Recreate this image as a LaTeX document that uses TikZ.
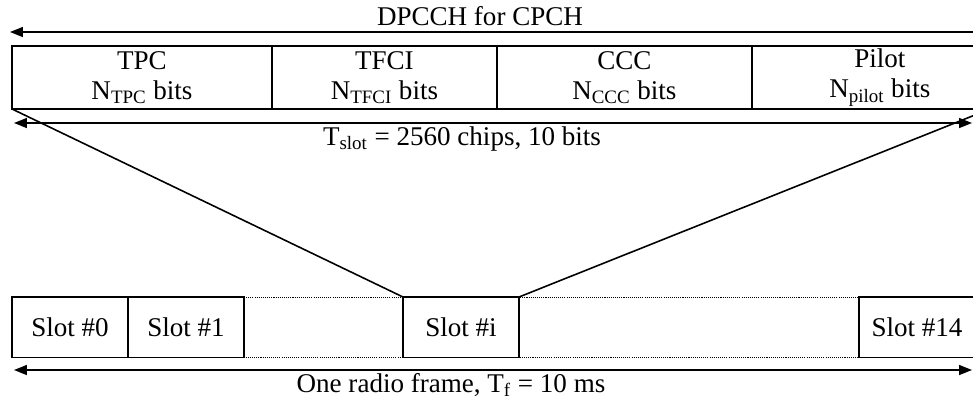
\documentclass[tikz,border=0pt]{standalone}
\usepackage{fontspec}
\setmainfont{Liberation Serif}
\usepackage{tikz}
\usetikzlibrary{positioning, arrows.meta}
\tikzset{
    field/.style={draw, rectangle, line width=0.9pt, outer sep=0pt, inner sep=0pt, minimum height=1.26cm, align=center},
    slot/.style={draw, rectangle, line width=0.9pt, outer sep=0pt, inner sep=0pt, minimum width=2.32cm, minimum height=1.21cm},
    conn/.style={-, line width=0.9pt},
    span/.style={line width=0.9pt, arrows={Triangle[length=0.26cm, width=0.2cm]-Triangle[length=0.26cm, width=0.2cm]}},
    spanL/.style={line width=0.9pt, arrows={Triangle[length=0.26cm, width=0.2cm]-}},
    dotline/.style={-, line width=0.5pt, dotted, dash pattern=on 0.6pt off 0.6pt},
}

\begin{document}
\begin{tikzpicture}[x=0.02cm, y=-0.02cm, font=\fontsize{15.4}{17}\selectfont]
        \useasboundingbox (0,0) rectangle (973,400);

        \node[field, minimum width=5.2cm, anchor=north west] (tpc) at (12,46) {TPC\\N\textsubscript{TPC} bits};
        \node[field, minimum width=4.5cm, right=0pt of tpc] (tfci) {TFCI\\N\textsubscript{TFCI} bits};
        \node[field, minimum width=5.1cm, right=0pt of tfci] (ccc) {CCC\\N\textsubscript{CCC} bits};
        \node[field, minimum width=5.12cm, right=0pt of ccc] (pilot) {Pilot\\N\textsubscript{pilot} bits};

        \coordinate (topR) at (975,32);
        \coordinate (topL) at (10,32);
        \draw[spanL] (topL) -- (topR);
        \node (dpcch) at (480,16) {DPCCH for CPCH};

        \coordinate (tsL) at (14,123);
        \coordinate (tsR) at (972,123);
        \draw[span] (tsL) -- (tsR);
        \node (tslot) at (462,139) {T\textsubscript{slot} = 2560 chips, 10 bits};

        \node[slot, anchor=north west] (s0) at (12,297) {Slot \#0};
        \node[slot, right=0pt of s0] (s1) {Slot \#1};
        \node[slot, anchor=north west] (si) at (403,297) {Slot \#i};
        \node[slot, anchor=north west] (s14) at (859,297) {Slot \#14};

        \coordinate (dotL) at (193,357);
        \coordinate (dotR) at (918,357);
        \draw[dotline] (s1.north east) -- (s14.north west);
        \draw[dotline] (dotL) -- (dotR);

        \coordinate (diagR) at (990,109);
        \draw[conn] (tpc.south west) -- (si.north west);
        \draw[conn] (diagR) -- (si.north east);

        \coordinate (rfL) at (14,370);
        \coordinate (rfR) at (972,370);
        \draw[span] (rfL) -- (rfR);
        \node (frame) at (451,385) {One radio frame, T\textsubscript{f} = 10 ms};
\end{tikzpicture}
\end{document}
